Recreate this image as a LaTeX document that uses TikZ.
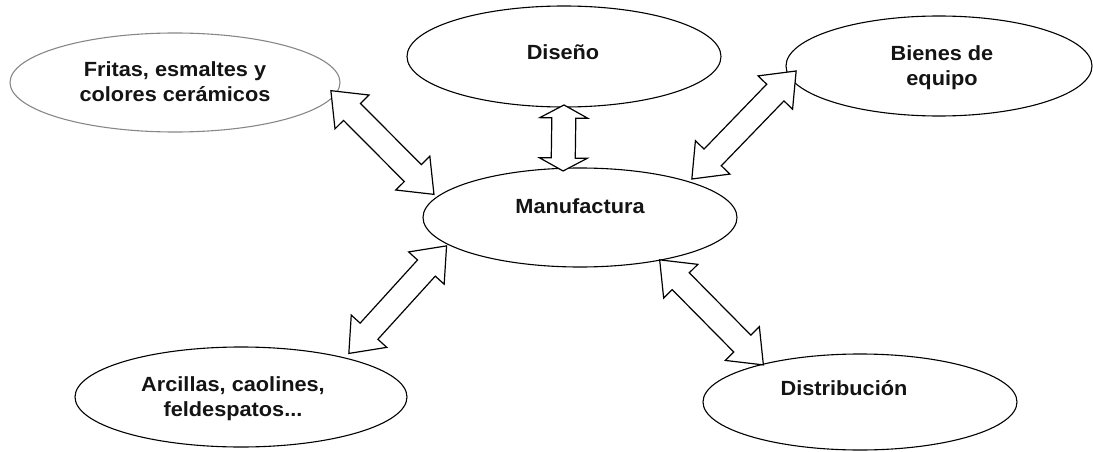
\documentclass[tikz,border=0pt]{standalone}
\usepackage{fontspec}
\newfontfamily\labfont{Liberation Sans}[FakeStretch=1.06]
\usetikzlibrary{calc,shapes.geometric}
\definecolor{ellgray}{RGB}{135,135,135}
\newcommand\blockarrow[4]{% #1 prefix, #2 tip A, #3 tip B, #4 head length
  \coordinate (#1p) at ($(#2)!#4!(#3)$);
  \coordinate (#1q) at ($(#3)!#4!(#2)$);
  \draw[barrow] (#2) -- ($(#1p)!24pt!90:(#3)$) -- ($(#1p)!12pt!90:(#3)$)
    -- ($(#1q)!12pt!-90:(#2)$) -- ($(#1q)!24pt!-90:(#2)$) -- (#3)
    -- ($(#1q)!24pt!90:(#2)$) -- ($(#1q)!12pt!90:(#2)$)
    -- ($(#1p)!12pt!-90:(#3)$) -- ($(#1p)!24pt!-90:(#3)$) -- cycle;
}
\begin{document}
\begin{tikzpicture}[x=1pt,y=-1pt,
  ell/.style={draw=black, line width=1.1pt, ellipse, inner sep=0pt, outer sep=0pt},
  lab/.style={font=\labfont\bfseries\fontsize{20.5}{25}\selectfont, align=center, inner sep=0pt, text=black!92},
  barrow/.style={draw=black, fill=white, line width=1.2pt, line join=miter}
]
\useasboundingbox (0,0) rectangle (1093,452);
% ellipses
\node[ell, draw=ellgray, minimum width=330pt, minimum height=99pt] (fritas) at (175,82.5) {};
\node[ell, minimum width=314pt, minimum height=101pt] (diseno) at (564,56.5) {};
\node[ell, minimum width=306pt, minimum height=100pt] (bienes) at (939,66) {};
\node[ell, minimum width=314pt, minimum height=99pt] (manuf) at (580,217.5) {};
\node[ell, minimum width=332pt, minimum height=100pt] (arcillas) at (241,397) {};
\node[ell, minimum width=314pt, minimum height=96pt] (distrib) at (860,402) {};
% labels
\node[lab] (tfritas) at (175,82) {Fritas, esmaltes y\\colores cerámicos};
\node[lab, anchor=base] (tdiseno) at (563,60) {Diseño};
\node[lab] (tbienes) at (942,68) {Bienes de\\equipo};
\node[lab, anchor=base] (tmanuf) at (580,213) {Manufactura};
\node[lab] (tarcillas) at (233,399) {Arcillas, caolines,\\feldespatos...};
\node[lab, anchor=base] (tdistrib) at (844,395) {Distribución};
% arrow tips
\coordinate (a1) at ($(fritas.center)!0.959!(fritas.-3.5)$);
\coordinate (b1) at ($(manuf.center)!1.041!(manuf.171.3)$);
\coordinate (a2) at ($(diseno.center)!0.96!(diseno.270)$);
\coordinate (b2) at ($(manuf.center)!0.946!(manuf.110.1)$);
\coordinate (a3) at ($(bienes.center)!0.939!(bienes.182.8)$);
\coordinate (b3) at ($(manuf.center)!1.055!(manuf.19.0)$);
\coordinate (a4) at ($(manuf.center)!1.025!(manuf.192.7)$);
\coordinate (b4) at ($(arcillas.center)!1.087!(arcillas.22.5)$);
\coordinate (a5) at ($(manuf.center)!0.995!(manuf.-28.3)$);
\coordinate (b5) at ($(distrib.center)!0.988!(distrib.159.1)$);
% block arrows
\blockarrow{ar1}{a1}{b1}{30pt}
\blockarrow{ar2}{a2}{b2}{13pt}
\blockarrow{ar3}{a3}{b3}{30pt}
\blockarrow{ar4}{a4}{b4}{30pt}
\blockarrow{ar5}{a5}{b5}{30pt}
\end{tikzpicture}
\end{document}
